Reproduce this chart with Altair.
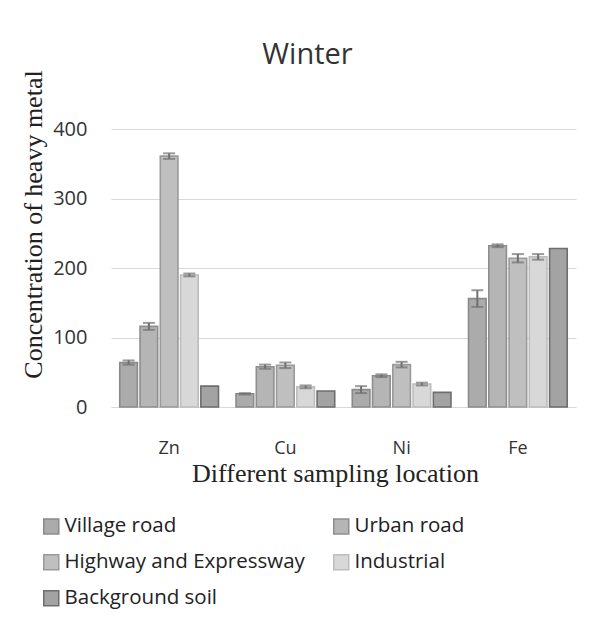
import altair as alt
import pandas as pd

metals = ["Zn", "Cu", "Ni", "Fe"]
locations = ["Village road", "Urban road", "Highway and Expressway", "Industrial", "Background soil"]

village = [64, 19, 25, 156]
urban = [116, 58, 45, 232]
highway = [361, 60, 61, 214]
industrial = [190, 29, 33, 216]
background = [30, 23, 21, 228]

village_err = [3, 1, 5, 12]
urban_err = [5, 3, 2, 2]
highway_err = [4, 4, 4, 6]
industrial_err = [2, 2, 2, 4]
background_err = [0, 0, 0, 0]

fills = ["#ababab", "#b5b5b5", "#bfbfbf", "#d8d8d8", "#a3a3a3"]
strokes = ["#8a8a8a", "#8e8e8e", "#9a9a9a", "#bdbdbd", "#6e6e6e"]

series = [village, urban, highway, industrial, background]
errors = [village_err, urban_err, highway_err, industrial_err, background_err]

rows = []
for loc, vals, errs in zip(locations, series, errors):
    for m, v, e in zip(metals, vals, errs):
        rows.append({"metal": m, "loc": loc, "value": v, "err": e, "lo": v - e, "hi": v + e})
df = pd.DataFrame(rows)

SANS = "Open Sans"
SERIF = "Liberation Serif"
YT = "Concentration of heavy metal"

x_enc = alt.X(
    "metal:N", sort=metals,
    scale=alt.Scale(paddingInner=0.13, paddingOuter=0.065),
    axis=alt.Axis(
        title="Different sampling location", labelAngle=0, labelFont=SANS, labelFontSize=18,
        labelColor="#333333", labelPadding=32, ticks=False, tickSize=0, domain=False, grid=False,
        titleFont=SERIF, titleFontSize=26, titleFontWeight="normal", titleColor="#222222",
        titleX=224, titleY=74, titleBaseline="alphabetic", titleAlign="center",
    ),
)
xo_enc = alt.XOffset("loc:N", sort=locations, scale=alt.Scale(paddingInner=0.13, paddingOuter=0.06))

y_axis = alt.Axis(
    values=[0, 100, 200, 300, 400], title=YT, labelFont=SANS, labelFontSize=20,
    labelColor="#333333", labelPadding=24, ticks=False, tickSize=0, domain=False, grid=True,
    gridColor="#d9d9d9", gridWidth=1,
    titleFont=SERIF, titleFontSize=26, titleFontWeight="normal", titleColor="#222222",
    titleX=-70, titleY=95, titleBaseline="alphabetic", titleAlign="center", titleAngle=-90,
)
y_scale = alt.Scale(domain=[0, 400], nice=False)

base = alt.Chart(df)

bars = base.mark_bar(strokeWidth=1.6).encode(
    x=x_enc,
    xOffset=xo_enc,
    y=alt.Y("value:Q", scale=y_scale, axis=y_axis, title=YT),
    fill=alt.Fill("loc:N", sort=locations, scale=alt.Scale(domain=locations, range=fills),
                  legend=alt.Legend(title=None)),
    stroke=alt.Stroke("loc:N", sort=locations, scale=alt.Scale(domain=locations, range=strokes),
                      legend=alt.Legend(title=None)),
)

eb = base.transform_filter("datum.err > 0")

rules = eb.mark_rule(color="#707070", strokeWidth=2).encode(
    x=alt.X("metal:N", sort=metals),
    xOffset=alt.XOffset("loc:N", sort=locations),
    y=alt.Y("lo:Q", title=YT),
    y2="hi:Q",
)
caps_hi = eb.mark_tick(color="#707070", size=12, thickness=2).encode(
    x=alt.X("metal:N", sort=metals),
    xOffset=alt.XOffset("loc:N", sort=locations),
    y=alt.Y("hi:Q", title=YT),
)
caps_lo = eb.mark_tick(color="#707070", size=12, thickness=2).encode(
    x=alt.X("metal:N", sort=metals),
    xOffset=alt.XOffset("loc:N", sort=locations),
    y=alt.Y("lo:Q", title=YT),
)

chart = alt.layer(bars, rules, caps_hi, caps_lo).properties(
    width=465,
    height=278,
    autosize=alt.AutoSizeParams(type="none"),
    padding={"left": 103, "top": 121, "right": 16, "bottom": 204},
    title=alt.TitleParams(
        "Winter", font=SANS, fontSize=29, color="#333333", fontWeight="normal",
        anchor="middle", frame="group", dx=-36, dy=31, offset=8, baseline="alphabetic",
    ),
).configure_view(stroke=None).configure_legend(
    orient="none", legendX=-70, legendY=387, columns=2, direction="horizontal",
    symbolType="square", symbolSize=225, symbolStrokeWidth=1.5, symbolOpacity=1,
    labelFont=SANS, labelFontSize=20.5, labelColor="#222222", rowPadding=14,
    columnPadding=25, labelOffset=3, padding=0, labelLimit=400,
)

chart.save("out.html", embed_options={"renderer": "svg", "actions": False})
